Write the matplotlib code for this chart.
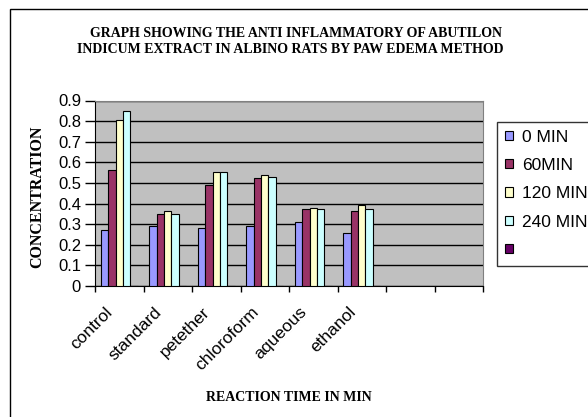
import numpy as np
import matplotlib
matplotlib.use("Agg")
import matplotlib.pyplot as plt
from matplotlib.patches import Rectangle
from matplotlib.transforms import ScaledTranslation, blended_transform_factory

# data
groups = ["control", "standard", "petether", "chloroform", "aqueous", "ethanol"]
n_slots = 8  # two empty category slots at the right
series_names = ["0 MIN", "60MIN", "120 MIN", "240 MIN", " "]
min0 = [0.27, 0.293, 0.282, 0.293, 0.31, 0.255]
min60 = [0.563, 0.35, 0.488, 0.524, 0.373, 0.362]
min120 = [0.804, 0.362, 0.551, 0.54, 0.38, 0.391]
min240 = [0.85, 0.35, 0.551, 0.529, 0.373, 0.373]
colors = ["#9999FF", "#993366", "#FFFFCC", "#CCFFFF", "#660066"]

W, H = 588, 417
fig = plt.figure(figsize=(W / 100, H / 100), dpi=100)
fig.patch.set_facecolor("white")

# chart frame (right and bottom edges fall outside the picture)
fig.add_artist(Rectangle((10 / W, -0.1), 1.2, 1.1 - 9 / H, transform=fig.transFigure,
                         fill=False, ec="black", lw=1))

ax = fig.add_axes([95 / W, 1 - 286 / H, (483 - 95) / W, (286 - 100.5) / H])
ax.set_facecolor("#C0C0C0")

series = [min0, min60, min120, min240, [0] * len(groups)]
w = 1 / 6.5
x = np.arange(len(groups))
handles = []
for i, vals in enumerate(series):
    pos = x - 0.5 + 0.75 * w + (i + 0.5) * w
    b = ax.bar(pos, vals, width=w, color=colors[i], edgecolor="black", lw=0.8, zorder=3)
    handles.append(b)

ax.set_xlim(-0.5, n_slots - 0.5)
ax.set_ylim(0, 0.9)
ax.set_yticks(np.arange(0, 0.91, 0.1))
ax.set_yticklabels(["0"] + ["%.1f" % v for v in np.arange(0.1, 0.91, 0.1)])
ax.yaxis.grid(True, color="black", lw=1, zorder=1)
ax.set_axisbelow(True)

# category ticks sit on the boundaries, names are drawn slanted below
ax.set_xticks(np.arange(-0.5, n_slots))
ax.set_xticklabels([])
ax.tick_params(axis="x", length=4, width=1, direction="out", color="black")
ax.tick_params(axis="y", length=7, width=1, direction="out", pad=3, labelsize=12)
for lab in ax.get_yticklabels():
    lab.set_family("Liberation Sans")

trans = blended_transform_factory(ax.transData, ax.transAxes) + \
    ScaledTranslation(-14 / 100, -18.5 / 100, fig.dpi_scale_trans)
for i, name in enumerate(groups):
    ax.text(i, 0, name, transform=trans, rotation=45, ha="right", va="top",
            rotation_mode="anchor", family="Liberation Sans", fontsize=12.5)

for s in ["top", "right"]:
    ax.spines[s].set_color("#808080")
ax.spines["left"].set_color("black")
ax.spines["bottom"].set_color("black")

fig.text(296 / W, 1 - 36.7 / H,
         "GRAPH SHOWING THE ANTI INFLAMMATORY OF ABUTILON",
         ha="center", va="baseline", family="Liberation Serif", weight="bold", fontsize=10)
fig.text(290 / W, 1 - 53.3 / H,
         "INDICUM EXTRACT IN ALBINO RATS BY PAW EDEMA METHOD",
         ha="center", va="baseline", family="Liberation Serif", weight="bold", fontsize=10)
fig.text(37 / W, 1 - 197 / H, "CONCENTRATION", rotation=90, ha="center", va="center",
         family="Liberation Serif", weight="bold", fontsize=11.5)
fig.text(289 / W, 1 - 397.5 / H, "REACTION TIME IN MIN", ha="center", va="center",
         family="Liberation Serif", weight="bold", fontsize=10)

leg = fig.legend(handles, series_names, loc="upper left",
                 bbox_to_anchor=(497 / W, 1 - 121.7 / H),
                 prop={"family": "Liberation Sans", "size": 12.5},
                 frameon=True, fancybox=False, edgecolor="black",
                 handlelength=0.45, handleheight=0.45, handletextpad=0.55,
                 labelspacing=0.77, borderpad=0.45, borderaxespad=0)
leg.get_frame().set_linewidth(1)

fig.savefig("out.png", dpi=100)
